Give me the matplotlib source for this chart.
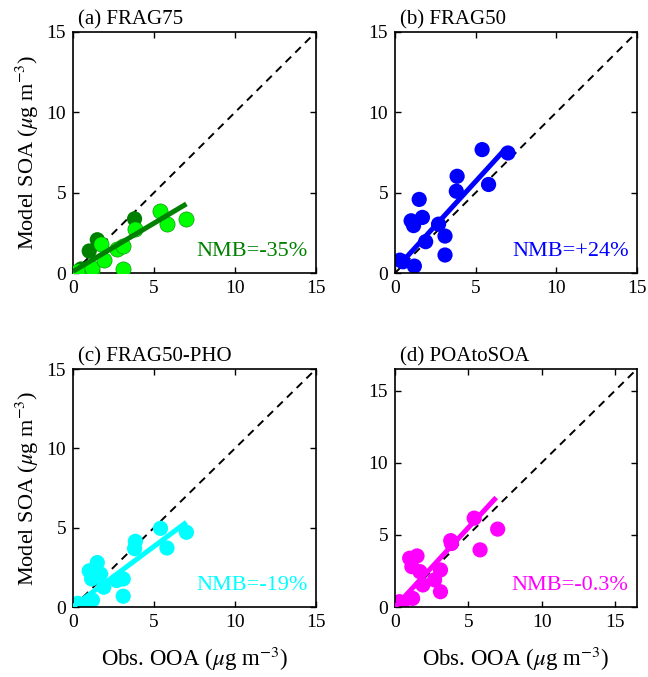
import matplotlib
matplotlib.use("Agg")
import matplotlib.pyplot as plt

plt.rcParams["font.family"] = ["Liberation Serif", "DejaVu Serif"]
plt.rcParams["mathtext.fontset"] = "stix"

# observed OOA (same sites in every panel)
obs = [0.3, 0.5, 1.0, 1.15, 1.2, 1.5, 1.7, 1.9, 2.7, 3.1, 3.1, 3.8, 3.85, 5.4, 5.8, 7.0]

# modelled SOA for each simulation
frag75 = [0.1, 0.25, 1.37, 0.1, 0.3, 2.07, 1.79, 0.8, 1.48, 1.69, 0.25, 3.37, 2.74, 3.84, 3.06, 3.34]
frag75_dark = [False, True, True, False, False, True, False, False, False, False, False,
               True, False, False, False, False]
frag50 = [0.8, 0.7, 3.25, 2.95, 0.43, 4.58, 3.46, 1.95, 3.04, 2.3, 1.12, 5.09, 6.02, 7.68, 5.51, 7.47]
frag50_pho = [0.23, 0.1, 2.28, 1.77, 0.43, 2.8, 2.08, 1.25, 1.67, 1.77, 0.68, 3.68, 4.14, 4.96, 3.72, 4.71]
poa_to_soa = [0.37, 0.25, 3.38, 2.8, 0.6, 3.54, 2.45, 1.53, 1.88, 2.57, 1.06, 4.6, 4.4, 6.16, 3.96, 5.4]

titles = ["(a) FRAG75", "(b) FRAG50", "(c) FRAG50-PHO", "(d) POAtoSOA"]
nmb_labels = ["NMB=-35%", "NMB=+24%", "NMB=-19%", "NMB=-0.3%"]
model_series = [frag75, frag50, frag50_pho, poa_to_soa]
marker_colors = ["#00ff00", "#0000ff", "#00ffff", "#ff00ff"]
line_colors = ["#008000", "#0000ff", "#00ffff", "#ff00ff"]

# regression lines: slope, intercept, x start, x end
fit_slope = [0.6, 1.1, 0.76, 1.1]
fit_intercept = [0.1, 0.2, 0.02, 0.0]
fit_xstart = [0.0, 0.3, 0.0, 0.0]
fit_xend = [7.0, 6.8, 7.0, 6.9]

axis_max = [15, 15, 15, 16.5]
ticks = [0, 5, 10, 15]

fig = plt.figure(figsize=(6.48, 6.77), dpi=100)
W, H = 648, 677
boxes = [(73, 32, 316, 273), (395, 32, 637, 273), (73, 369, 316, 607), (395, 369, 637, 607)]

for i in range(4):
    l, t, r, b = boxes[i]
    ax = fig.add_axes([l / W, (H - b) / H, (r - l) / W, (b - t) / H])
    lim = axis_max[i]

    ax.plot([0, lim], [0, lim], color="black", linestyle=(0, (4, 3)), linewidth=1.4, zorder=1)

    y = model_series[i]
    if i == 0:
        dx = [o for o, d in zip(obs, frag75_dark) if d]
        dy = [m for m, d in zip(y, frag75_dark) if d]
        lx = [o for o, d in zip(obs, frag75_dark) if not d]
        ly = [m for m, d in zip(y, frag75_dark) if not d]
        ax.scatter(dx, dy, s=120, color=line_colors[0], edgecolors="none", zorder=2)
        ax.scatter(lx, ly, s=120, color=marker_colors[0], edgecolors=line_colors[0],
                   linewidths=0.4, zorder=3)
    else:
        ax.scatter(obs, y, s=120, color=marker_colors[i], edgecolors="none", zorder=2)

    x0, x1 = fit_xstart[i], fit_xend[i]
    ax.plot([x0, x1], [fit_slope[i] * x0 + fit_intercept[i], fit_slope[i] * x1 + fit_intercept[i]],
            color=line_colors[i], linewidth=3.6, solid_capstyle="butt", zorder=4)

    ax.text(0.965, 0.09, nmb_labels[i], transform=ax.transAxes, ha="right", va="center",
            fontsize=16, color=line_colors[i])
    ax.text(0.02, 1.01, titles[i], transform=ax.transAxes, ha="left", va="bottom", fontsize=15)

    ax.set_xlim(0, lim)
    ax.set_ylim(0, lim)
    ax.set_xticks(ticks)
    ax.set_yticks(ticks)
    ax.tick_params(direction="in", top=True, right=True, labelsize=14, length=4, width=1, pad=5)
    for sp in ax.spines.values():
        sp.set_linewidth(1.2)

    if i % 2 == 0:
        ax.set_ylabel(r"Model SOA ($\mu$g m$^{-3}$)", fontsize=16, labelpad=4)
    if i >= 2:
        ax.set_xlabel(r"Obs. OOA ($\mu$g m$^{-3}$)", fontsize=16.5, labelpad=10)

fig.savefig("out.png", dpi=100)
